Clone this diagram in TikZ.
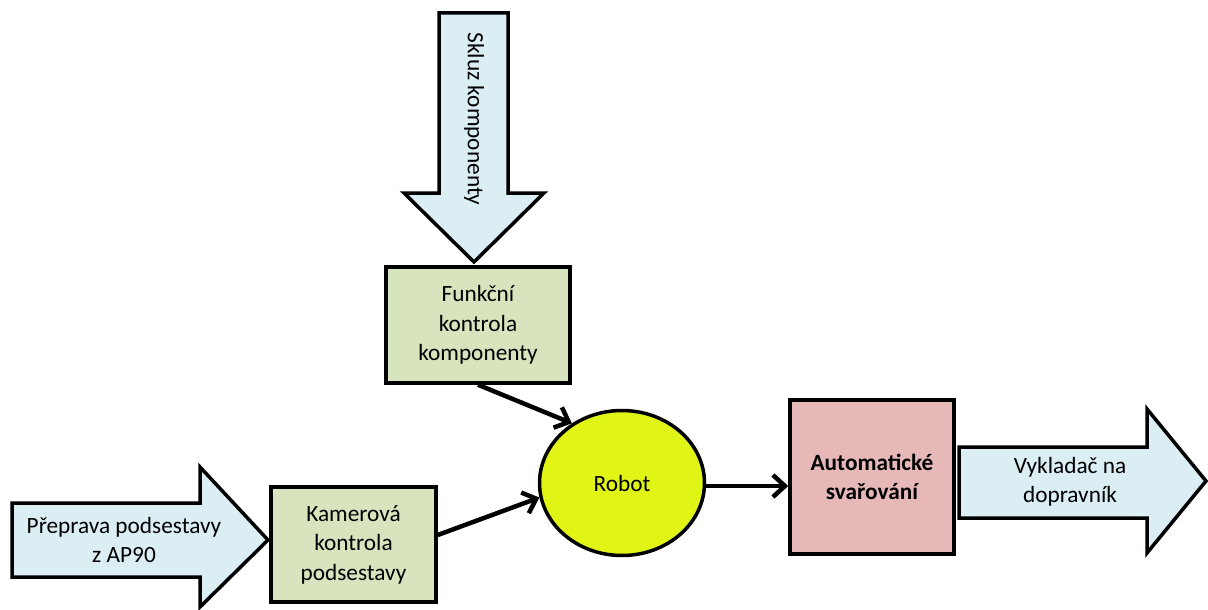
\documentclass[tikz,border=0pt]{standalone}
\usepackage{fontspec}
\setmainfont{Carlito}
\usetikzlibrary{shapes.geometric,arrows.meta}
\definecolor{flowblue}{HTML}{DAEEF3}
\definecolor{checkgreen}{HTML}{D7E4BD}
\definecolor{weldpink}{HTML}{E6B9B8}
\definecolor{robotyellow}{HTML}{E0F516}
\tikzset{
  every node/.style={font=\fontsize{23.3}{29.5}\selectfont, align=center},
  flowarrow/.style={draw=black, line width=3.5pt, fill=flowblue, line join=miter},
  checkbox/.style={draw=black, line width=3.5pt, fill=checkgreen, minimum width=184pt, minimum height=116pt, inner sep=0pt},
  link/.style={line width=4.5pt, -{Straight Barb[length=12pt, width=22pt, line width=4.5pt]}},
}
\begin{document}
\begin{tikzpicture}[x=1pt, y=-1pt]
  \useasboundingbox (0,0) rectangle (1208,610);

  % incoming components chute
  \draw[flowarrow] (439,13) -- (508,13) -- (508,193) -- (544,193) -- (474,262)
    -- (404,193) -- (439,193) -- cycle;
  \node[rotate=-90] (chute) at (474,119) {Skluz komponenty};

  % incoming sub-assembly transport
  \draw[flowarrow] (12,503) -- (200,503) -- (200,467) -- (268,540) -- (200,607)
    -- (200,577) -- (12,577) -- cycle;
  \node (transport) at (124,540) {Přeprava podsestavy\\z AP90};

  % outgoing unloader
  \draw[flowarrow] (959,447) -- (1147,447) -- (1147,409) -- (1206,481) -- (1147,553)
    -- (1147,518) -- (959,518) -- cycle;
  \node (unloader) at (1070,482) {Vykladač na\\dopravník};

  % inspection stations
  \node[checkbox] (func) at (478,325) {Funkční\\kontrola\\komponenty};
  \node[checkbox, minimum width=165pt, minimum height=115pt] (cam) at (353.5,544.5) {Kamerová\\kontrola\\podsestavy};

  % robot
  \node[ellipse, draw=black, line width=3.5pt, fill=robotyellow, minimum width=165pt, minimum height=145pt, inner sep=0pt] (robot) at (622,483) {Robot};

  % welding station
  \node[draw=black, line width=3.5pt, fill=weldpink, minimum width=164pt, minimum height=154pt, inner sep=0pt, font=\fontsize{23.3}{29.5}\selectfont\bfseries] (weld) at (872,477) {Automatické\\svařování};

  % connections
  \draw[link] (func.south) -- (robot.130);
  \draw[link] (cam.east |- 0,535) -- (robot.190);
  \draw[link] (robot.east |- 0,486) -- (weld.west |- 0,486);
\end{tikzpicture}
\end{document}
